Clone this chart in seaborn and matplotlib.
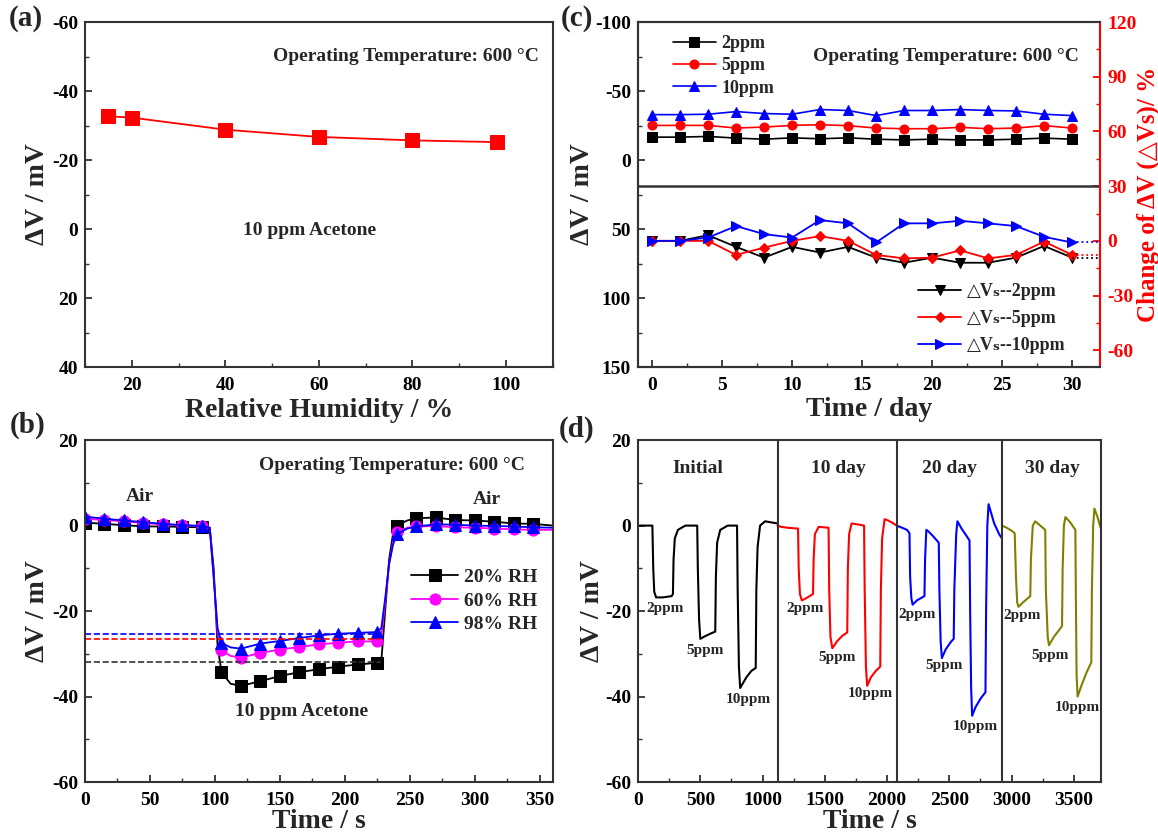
import matplotlib
matplotlib.use("Agg")
import matplotlib.pyplot as plt
from matplotlib.ticker import MultipleLocator
import seaborn as sns

# ---- (a) response vs relative humidity ----
rh = [15, 20, 40, 60, 80, 98]
rh_dv = [-32.7, -32.3, -28.8, -26.7, -25.7, -25.2]

# ---- (b) transients at three humidities ----
b_time = [0, 15, 30, 45, 60, 75, 90, 96, 99, 102, 105, 112, 120, 135, 150, 165, 180,
          195, 210, 225, 228, 231, 234, 237, 240, 248, 255, 270, 285, 300, 315, 330, 345, 360]
b_20rh = [0.7, 0.4, 0.1, -0.2, -0.2, -0.3, -0.4, -0.5, -10, -28, -34.3, -37.0, -37.5, -36.4,
          -35.2, -34.3, -33.6, -33.0, -32.5, -32.1, -31.8, -20, -8, -2, 0.0, 1.2, 1.7, 1.9,
          1.3, 1.2, 0.9, 0.5, 0.4, 0.0]
b_60rh = [1.6, 1.3, 1.0, 0.6, 0.3, 0.1, -0.1, -0.5, -12, -25, -29.1, -30.5, -30.9, -29.8,
          -29.0, -28.4, -27.8, -27.4, -27.1, -27.1, -26, -18, -9, -4, -1.5, -0.5, -0.2, -0.1,
          -0.4, -0.5, -0.7, -0.9, -1.0, -1.0]
b_98rh = [2.1, 1.6, 1.2, 0.8, 0.4, 0.1, -0.1, -0.5, -12, -24, -27.4, -28.5, -28.8, -27.6,
          -27.0, -26.3, -25.7, -25.3, -25.1, -24.9, -24, -17, -9, -4.5, -2.0, -0.7, -0.2, 0.3,
          0.2, 0.0, -0.1, -0.2, -0.4, -0.5]
b_labels = ["20% RH", "60% RH", "98% RH"]
b_steady = [-31.9, -26.6, -25.3]

# ---- (c) long-term stability ----
days = [0, 2, 4, 6, 8, 10, 12, 14, 16, 18, 20, 22, 24, 26, 28, 30]
c_2ppm = [-16.6, -16.6, -17.1, -15.9, -15.1, -16.1, -15.4, -16.1, -15.1, -14.6, -15.1,
          -14.6, -14.6, -15.1, -15.9, -15.1]
c_5ppm = [-25.1, -25.1, -25.1, -23.2, -23.9, -25.1, -25.6, -24.9, -23.2, -22.7, -22.7,
          -23.7, -22.7, -23.2, -24.9, -23.2]
c_10ppm = [-32.9, -32.9, -33.2, -35.1, -33.7, -33.2, -36.6, -35.9, -32.2, -35.9, -35.9,
           -36.6, -35.9, -35.6, -33.2, -32.2]
chg_2ppm = [0, 0, 3.1, -3.3, -9.2, -3.3, -6.4, -3.3, -9.2, -12, -9.2, -12, -12, -9.2, -2.8, -9.2]
chg_5ppm = [0, 0, 0, -7.7, -3.7, 0, 2.6, 0, -7.7, -9.6, -9.2, -5.2, -9.6, -7.7, -0.4, -7.7]
chg_10ppm = [0, 0, 1.8, 8.1, 3.7, 1.8, 11.4, 9.6, -0.9, 9.6, 9.6, 11.0, 9.6, 8.1, 2.2, -0.9]

# ---- (d) transients after 0/10/20/30 days ----
d_init_t = [0, 115, 122, 130, 145, 200, 270, 280, 285, 295, 320, 380, 475, 480, 490, 500,
            530, 580, 620, 625, 635, 660, 720, 795, 800, 810, 820, 840, 870, 910, 945, 950,
            960, 980, 1020, 1060, 1120]
d_init_v = [0, 0, -10, -15.5, -16.8, -16.8, -16.5, -16, -8, -3, -1, 0, 0, -10, -22, -26.5,
            -26, -25.3, -24.8, -12, -4, -1, 0, 0, -15, -33, -38, -37, -35.5, -34, -33.3, -15,
            -5, 0, 1, 0.8, 0.5]
d_10_t = [1120, 1150, 1200, 1285, 1290, 1300, 1315, 1350, 1405, 1410, 1420, 1450, 1530,
          1535, 1545, 1560, 1600, 1640, 1680, 1685, 1695, 1715, 1760, 1815, 1820, 1830, 1840,
          1870, 1910, 1945, 1950, 1960, 1980, 2000, 2040, 2078]
d_10_v = [0, -0.3, -0.5, -0.7, -10, -16, -17.5, -17, -16, -8, -2, -0.3, -0.5, -15, -26,
          -28.7, -27, -25.8, -25, -10, -2, 0.5, 0.3, 0, -15, -33, -37.5, -35.5, -34, -33,
          -15, -3, 1.5, 1.3, 0.7, 0]
d_20_t = [2078, 2120, 2160, 2180, 2185, 2195, 2205, 2240, 2300, 2305, 2315, 2330, 2370,
          2415, 2420, 2430, 2440, 2470, 2510, 2535, 2540, 2555, 2565, 2600, 2640, 2662, 2667,
          2675, 2683, 2710, 2750, 2790, 2795, 2805, 2815, 2830, 2860, 2900, 2922]
d_20_v = [0, -0.5, -1, -1.8, -12, -17, -18.5, -17.5, -16.5, -8, -1, -1.3, -2.5, -4, -15,
          -27, -31, -29, -27.3, -26.5, -15, -2, 1, -0.8, -2.5, -3.5, -20, -38, -44.5, -42.5,
          -40.5, -39, -20, 0, 5, 3.5, 0.5, -2, -3]
d_30_t = [2922, 2960, 3000, 3025, 3035, 3045, 3055, 3090, 3150, 3155, 3170, 3190, 3230,
          3270, 3275, 3290, 3300, 3340, 3380, 3405, 3410, 3420, 3432, 3470, 3512, 3517, 3522,
          3530, 3560, 3600, 3640, 3645, 3655, 3665, 3690, 3720]
d_30_v = [0, -0.5, -1.2, -1.8, -12, -18, -19, -18, -16.5, -8, 0, 1, 0, -1, -15, -26, -28,
          -26, -24.5, -23.5, -10, 0, 2, 0.8, -1, -20, -35, -40, -37.5, -34.5, -32, -15, 0, 4,
          2, -1]
d_bounds = [1120, 2078, 2922]
d_titles = ["Initial", "10 day", "20 day", "30 day"]
d_ppm = ["2ppm", "5ppm", "10ppm"]

sns.set_theme(style="ticks")
plt.rcParams.update({
    "font.family": ["Liberation Serif", "DejaVu Serif", "DejaVu Sans"],
    "font.weight": "bold",
    "axes.labelweight": "bold",
    "axes.labelsize": 20,
    "axes.unicode_minus": False,
    "xtick.labelsize": 14,
    "ytick.labelsize": 14,
    "xtick.direction": "in",
    "ytick.direction": "in",
    "xtick.major.pad": 7,
    "ytick.major.pad": 5,
    "xtick.major.size": 5,
    "ytick.major.size": 5,
    "xtick.minor.size": 3,
    "ytick.minor.size": 3,
    "xtick.major.width": 1.3,
    "ytick.major.width": 1.3,
    "xtick.minor.width": 1.0,
    "ytick.minor.width": 1.0,
    "axes.linewidth": 1.5,
    "axes.edgecolor": "#333333",
    "xtick.color": "#333333",
    "ytick.color": "#333333",
    "xtick.labelcolor": "black",
    "ytick.labelcolor": "black",
})

fig = plt.figure(figsize=(11.58, 8.38), dpi=100)
ax_a = fig.add_axes([0.0734, 0.562, 0.404, 0.4117])
ax_b = fig.add_axes([0.0734, 0.0668, 0.404, 0.408])
ax_c = fig.add_axes([0.551, 0.562, 0.399, 0.4117])
ax_d = fig.add_axes([0.551, 0.0668, 0.400, 0.408])

txt = dict(fontsize=14, fontweight="bold")

# ---- (a) ----
sns.lineplot(x=rh, y=rh_dv, ax=ax_a, color="red", lw=1.3, marker="s", markersize=10,
             markeredgecolor="red")
ax_a.set_xlim(10, 110)
ax_a.set_ylim(40, -60)
ax_a.xaxis.set_major_locator(MultipleLocator(20))
ax_a.xaxis.set_minor_locator(MultipleLocator(10))
ax_a.yaxis.set_major_locator(MultipleLocator(20))
ax_a.yaxis.set_minor_locator(MultipleLocator(10))
ax_a.set_xlabel("Relative Humidity / %", labelpad=3)
ax_a.set_ylabel("ΔV / mV", labelpad=1)
ax_a.text(0.97, 0.9, "Operating Temperature: 600 °C", transform=ax_a.transAxes,
          ha="right", va="center", **txt)
ax_a.text(58, 0.5, "10 ppm Acetone", ha="center", va="center", **txt)

# ---- (b) ----
b_marks = [i for i, t in enumerate(b_time) if t % 15 == 0 and t < 360]
for vals, col, mk, lab in zip([b_20rh, b_60rh, b_98rh], ["black", "#ff00ff", "blue"],
                              ["s", "o", "^"], b_labels):
    sns.lineplot(x=b_time, y=vals, ax=ax_b, color=col, lw=1.3, marker=mk, markersize=8,
                 markeredgecolor=col, markevery=b_marks, label=lab)
ax_b.hlines(b_steady, 0, 228, colors=["#333333", "red", "blue"], linestyles="--", lw=1.2)
ax_b.set_xlim(0, 360)
ax_b.set_ylim(-60, 20)
ax_b.xaxis.set_major_locator(MultipleLocator(50))
ax_b.xaxis.set_minor_locator(MultipleLocator(25))
ax_b.yaxis.set_major_locator(MultipleLocator(20))
ax_b.yaxis.set_minor_locator(MultipleLocator(10))
ax_b.set_xlabel("Time / s", labelpad=0)
ax_b.set_ylabel("ΔV / mV", labelpad=1)
ax_b.legend(loc="center left", bbox_to_anchor=(0.66, 0.53), frameon=False, fontsize=14,
            handlelength=2.4, handletextpad=0.3, labelspacing=0.3)
ax_b.text(0.94, 0.925, "Operating Temperature: 600 °C", transform=ax_b.transAxes,
          ha="right", va="center", **txt)
ax_b.text(42, 6.8, "Air", ha="center", va="center", **txt)
ax_b.text(309, 6.0, "Air", ha="center", va="center", **txt)
ax_b.text(167, -43.4, "10 ppm Acetone", ha="center", va="center", **txt)

# ---- (c) ----
for vals, col, mk, lab in zip([c_2ppm, c_5ppm, c_10ppm], ["black", "red", "blue"],
                              ["s", "o", "^"], ["2ppm", "5ppm", "10ppm"]):
    sns.lineplot(x=days, y=vals, ax=ax_c, color=col, lw=1.2, marker=mk, markersize=6.5,
                 markeredgecolor=col, label=lab)
ax_c.set_xlim(-1, 32)
ax_c.set_ylim(150, -100)
ax_c.xaxis.set_major_locator(MultipleLocator(5))
ax_c.xaxis.set_minor_locator(MultipleLocator(2.5))
ax_c.yaxis.set_major_locator(MultipleLocator(50))
ax_c.yaxis.set_minor_locator(MultipleLocator(25))
ax_c.set_xlabel("Time / day", labelpad=2)
ax_c.set_ylabel("ΔV / mV", labelpad=0)
ax_c.spines["right"].set_visible(False)
ax_c.legend(loc="upper left", bbox_to_anchor=(0.04, 1.01), frameon=False, fontsize=13,
            handlelength=2.4, handletextpad=0.3, labelspacing=0.3)
ax_c.text(0.955, 0.9, "Operating Temperature: 600 °C", transform=ax_c.transAxes,
          ha="right", va="center", **txt)

ax_c2 = ax_c.twinx()
chg_cols = ["black", "red", "blue"]
for vals, col, mk, lab in zip([chg_2ppm, chg_5ppm, chg_10ppm], chg_cols,
                              ["v", "D", ">"], ["2ppm", "5ppm", "10ppm"]):
    sns.lineplot(x=days, y=vals, ax=ax_c2, color=col, lw=1.3, marker=mk,
                 markersize=7 if mk != "D" else 5.5, markeredgecolor=col,
                 label="△V\u209b--" + lab)
ax_c2.hlines([chg_2ppm[-1], chg_5ppm[-1], chg_10ppm[-1]], days[-1], 32, colors=chg_cols,
             linestyles=":", lw=1.3)
ax_c2.axhline(30, color="#333333", lw=1.8)
ax_c2.set_ylim(-69.2, 120)
ax_c2.yaxis.set_major_locator(MultipleLocator(30))
ax_c2.yaxis.set_minor_locator(MultipleLocator(15))
ax_c2.tick_params(axis="y", which="both", colors="red", labelcolor="red", direction="in")
ax_c2.spines["right"].set_color("red")
ax_c2.set_ylabel("Change of ΔV (△Vs)/ %", color="red", fontsize=18, labelpad=0)
ax_c2.legend(loc="lower right", bbox_to_anchor=(0.96, -0.01), frameon=False, fontsize=13,
             handlelength=2.4, handletextpad=0.3, labelspacing=0.55)

# ---- (d) ----
for t, v, col in zip([d_init_t, d_10_t, d_20_t, d_30_t], [d_init_v, d_10_v, d_20_v, d_30_v],
                     ["black", "red", "blue", "#808000"]):
    sns.lineplot(x=t, y=v, ax=ax_d, color=col, lw=1.5, estimator=None)
for xb in d_bounds:
    ax_d.axvline(xb, color="#333333", lw=1.5)
ax_d.set_xlim(0, 3720)
ax_d.set_ylim(-60, 20)
ax_d.xaxis.set_major_locator(MultipleLocator(500))
ax_d.xaxis.set_minor_locator(MultipleLocator(250))
ax_d.yaxis.set_major_locator(MultipleLocator(20))
ax_d.yaxis.set_minor_locator(MultipleLocator(10))
ax_d.set_xlabel("Time / s", labelpad=0)
ax_d.set_ylabel("ΔV / mV", labelpad=0)
for xt, title in zip([482, 1606, 2503, 3331], d_titles):
    ax_d.text(xt, 13.3, title, ha="center", va="center", **txt)
ppm_pos = [[(216, -19.5), (541, -29.3), (882, -40.6)],
           [(1340, -19.5), (1598, -30.8), (1864, -39.4)],
           [(2243, -20.7), (2459, -32.8), (2710, -47.0)],
           [(3086, -21.1), (3311, -30.4), (3530, -42.5)]]
for group in ppm_pos:
    for (xp, yp), lab in zip(group, d_ppm):
        ax_d.text(xp, yp, lab, ha="center", va="center", fontsize=11, fontweight="bold")

# panel letters
for xf, yf, lab in [(0.022, 0.978, "(a)"), (0.024, 0.492, "(b)"),
                    (0.498, 0.978, "(c)"), (0.498, 0.488, "(d)")]:
    fig.text(xf, yf, lab, ha="center", va="center", fontsize=21, fontweight="bold")

fig.savefig("out.png", dpi=100)
